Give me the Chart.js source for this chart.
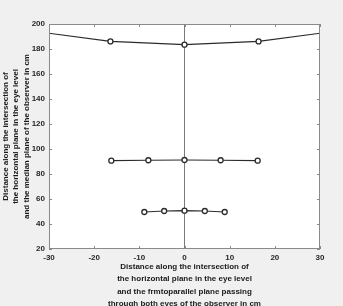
<!DOCTYPE html>
<html>
<head>
<meta charset="utf-8">
<script src="https://cdn.jsdelivr.net/npm/chart.js@4/dist/chart.umd.min.js"></script>
<style>
  html, body { margin: 0; padding: 0; background: #f0f0f0; }
  canvas { display: block; }
</style>
</head>
<body>
<canvas id="dataChart" width="343" height="306"></canvas>
<script>
// Courbe du haut (plan horizontal, extrémités sans marqueur)
const topX = [-30, -16.4, 0, 16.4, 30];
const topY = [192.6, 186.1, 183.5, 186.1, 192.6];
// Rangée du milieu
const midX = [-16.2, -8, 0, 8, 16.2];
const midY = [90.7, 91, 91.2, 91, 90.7];
// Rangée du bas
const lowX = [-8.9, -4.5, 0, 4.5, 8.9];
const lowY = [49.6, 50.4, 50.7, 50.4, 49.6];
// Ligne verticale (plan médian)
const axisX = [0, 0];
const axisY = [20, 200];

const xTicks = [-30, -20, -10, 0, 10, 20, 30];
const yTicks = [20, 40, 60, 80, 100, 120, 140, 160, 180, 200];

const xTitle = ['Distance along the intersection of',
    'the horizontal plane in the eye level',
    'and the frmtoparallel plane passing',
    'through both eyes of the observer in cm'];
const yTitle = ['Distance along the intersection of',
    'the horizontal plane in the eye level',
    'and the median plane of the observer in cm'];

function toPoints(xs, ys) {
    return xs.map((x, i) => ({x: x, y: ys[i]}));
}

// Fond blanc de la zone de tracé + cadre et graduations intérieures
const boxPlugin = {
    id: 'box',
    beforeDraw(chart) {
        const {ctx, chartArea: a} = chart;
        ctx.save();
        ctx.fillStyle = '#ffffff';
        ctx.fillRect(a.left, a.top, a.right - a.left, a.bottom - a.top);
        ctx.restore();
    },
    afterDraw(chart) {
        const {ctx, chartArea: a, scales} = chart;
        ctx.save();
        ctx.strokeStyle = '#8a8a8a';
        ctx.lineWidth = 1;
        ctx.strokeRect(a.left + 0.5, a.top + 0.5, a.right - a.left - 1, a.bottom - a.top - 1);
        ctx.beginPath();
        xTicks.forEach(v => {
            const px = Math.round(scales.x.getPixelForValue(v)) + 0.5;
            ctx.moveTo(px, a.bottom); ctx.lineTo(px, a.bottom - 3);
            ctx.moveTo(px, a.top); ctx.lineTo(px, a.top + 3);
        });
        yTicks.forEach(v => {
            const py = Math.round(scales.y.getPixelForValue(v)) + 0.5;
            ctx.moveTo(a.left, py); ctx.lineTo(a.left + 3, py);
            ctx.moveTo(a.right, py); ctx.lineTo(a.right - 3, py);
        });
        ctx.stroke();
        ctx.restore();
    }
};

const lineStyle = {
    showLine: true,
    borderColor: '#2b2b2b',
    borderWidth: 1.2,
    pointBackgroundColor: '#ffffff',
    pointBorderColor: '#2b2b2b',
    pointBorderWidth: 1.3,
    pointRadius: 2.5,
    tension: 0
};

const ctx = document.getElementById('dataChart').getContext('2d');
const dataChart = new Chart(ctx, {
    type: 'scatter',
    data: {
        datasets: [
            Object.assign({}, lineStyle, {
                data: toPoints(topX, topY),
                pointRadius: topX.map((x, i) => (i === 0 || i === topX.length - 1) ? 0 : 2.5)
            }),
            Object.assign({}, lineStyle, {data: toPoints(midX, midY)}),
            Object.assign({}, lineStyle, {data: toPoints(lowX, lowY)}),
            {
                data: toPoints(axisX, axisY),
                showLine: true,
                borderColor: '#7a7a7a',
                borderWidth: 1,
                pointRadius: 0
            }
        ]
    },
    options: {
        responsive: false,
        animation: false,
        layout: {padding: {left: 0, top: 24, right: 23, bottom: 0}},
        plugins: {legend: {display: false}, tooltip: {enabled: false}},
        scales: {
            x: {
                type: 'linear',
                min: -30, max: 30,
                afterBuildTicks: s => { s.ticks = xTicks.map(v => ({value: v})); },
                afterFit: s => { s.height = 57; },
                grid: {display: false, drawTicks: false},
                border: {display: false},
                ticks: {
                    padding: 4,
                    color: '#262626',
                    font: {family: 'Liberation Sans', size: 8, weight: 'bold'},
                    maxRotation: 0
                },
                title: {
                    display: true,
                    text: xTitle,
                    color: '#1a1a1a',
                    padding: {top: 0, bottom: -4},
                    font: {family: 'Liberation Sans', size: 8, weight: 'bold', lineHeight: 1.54}
                }
            },
            y: {
                type: 'linear',
                min: 20, max: 200,
                afterBuildTicks: s => { s.ticks = yTicks.map(v => ({value: v})); },
                afterFit: s => { s.width = 49; },
                grid: {display: false, drawTicks: false},
                border: {display: false},
                ticks: {
                    padding: 4,
                    color: '#262626',
                    font: {family: 'Liberation Sans', size: 8, weight: 'bold'}
                },
                title: {
                    display: true,
                    text: yTitle,
                    color: '#1a1a1a',
                    padding: {top: 0, bottom: 0},
                    font: {family: 'Liberation Sans', size: 8, weight: 'bold', lineHeight: 1.35}
                }
            }
        }
    },
    plugins: [boxPlugin]
});
</script>
</body>
</html>
